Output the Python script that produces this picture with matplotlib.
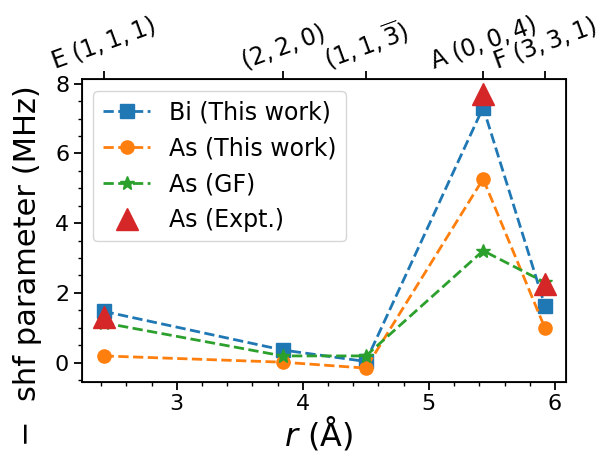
import matplotlib
matplotlib.use("Agg")
import matplotlib.pyplot as plt
from matplotlib.ticker import MultipleLocator

# Data
r = [2.42, 3.84, 4.50, 5.43, 5.92]
top_labels = [r"E $(1,1,1)$", r"$(2,2,0)$", r"$(1,1,\overline{3})$", r"A $(0,0,4)$", r"F $(3,3,1)$"]
bi_this = [1.47, 0.36, 0.03, 7.32, 1.63]
as_this = [0.19, 0.01, -0.16, 5.27, 0.99]
as_gf = [1.14, 0.19, 0.19, 3.21, 2.30]
r_expt = [2.42, 5.43, 5.92]
as_expt = [1.32, 7.72, 2.26]

fig = plt.figure(figsize=(6.05, 4.58), dpi=100)
ax = fig.add_axes([0.135, 0.1666, 0.8005, 0.6603])

lw = 2.0
ax.plot(r, bi_this, '--s', color='tab:blue', lw=lw, ms=9.5, label='Bi (This work)')
ax.plot(r, as_this, '--o', color='tab:orange', lw=lw, ms=9.5, label='As (This work)')
ax.plot(r, as_gf, '--*', color='tab:green', lw=lw, ms=10, label='As (GF)')
ax.plot(r_expt, as_expt, '^', color='tab:red', ms=16, ls='none', label='As (Expt.)')

ax.set_xlim(2.246, 6.087)
ax.set_ylim(-0.55, 8.13)
ax.xaxis.set_minor_locator(MultipleLocator(0.2))
ax.yaxis.set_minor_locator(MultipleLocator(0.5))
ax.set_xticks([3, 4, 5, 6])
ax.set_yticks([0, 2, 4, 6, 8])
ax.tick_params(labelsize=16)
ax.set_xlabel(r'$r$ (Å)', fontsize=23)
ax.set_ylabel('−  shf parameter (MHz)', fontsize=22)
ax.yaxis.set_label_coords(-0.082, 0.385)
ax.xaxis.set_label_coords(0.49, -0.108)
for s in ax.spines.values():
    s.set_linewidth(1.3)
ax.tick_params(width=1.3)
ax.tick_params(which='major', length=5.5)
ax.tick_params(which='minor', length=3.2, width=1.0)

ax.legend(loc='upper left', fontsize=17)

ax2 = ax.twiny()
ax2.set_xlim(ax.get_xlim())
ax2.set_xticks(r)
ax2.set_xticklabels(top_labels, rotation=20, fontsize=17)
ax2.tick_params(width=1.3, length=5.5, pad=-2)

fig.savefig('out.png', dpi=100)
